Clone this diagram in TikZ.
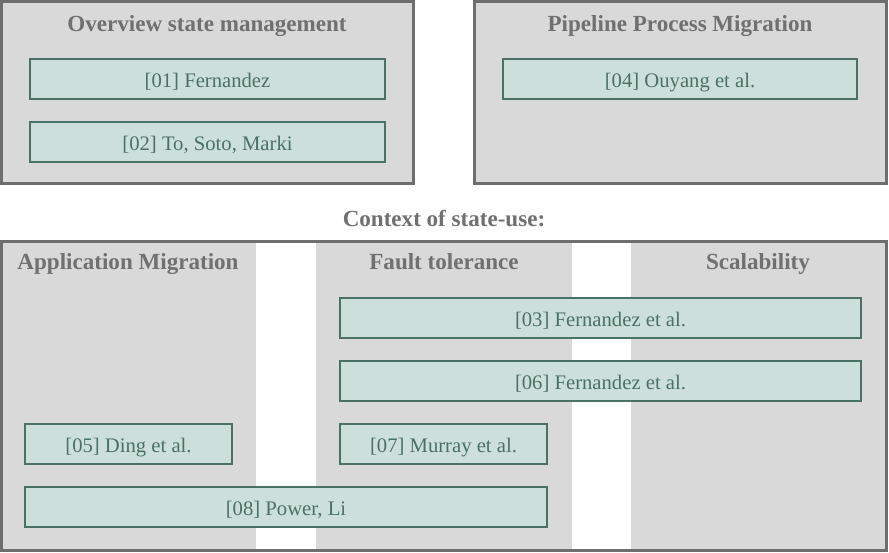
\documentclass[tikz,border=0pt]{standalone}
\usepackage{fontspec}
\setmainfont{Liberation Serif}
\usetikzlibrary{fit}
\definecolor{panelfill}{HTML}{D9D9D9}
\definecolor{panelline}{HTML}{6E6E6E}
\definecolor{titlecol}{HTML}{707070}
\definecolor{reffill}{HTML}{CCDFDA}
\definecolor{refline}{HTML}{4A7264}
\definecolor{reftext}{HTML}{4A7264}
\tikzset{
  panel/.style={fill=panelfill, draw=panelline, line width=2.25pt, inner sep=0pt},
  colfill/.style={fill=panelfill, draw=none, inner sep=0pt},
  frame/.style={draw=panelline, line width=2.25pt, inner sep=0pt},
  heading/.style={font=\fontsize{17.3}{20}\selectfont\bfseries, text=titlecol, inner sep=0pt, anchor=base},
  refbox/.style={fill=reffill, draw=refline, line width=1.5pt, inner sep=0pt},
  reflabel/.style={font=\fontsize{15.5}{18}\selectfont, text=reftext, inner sep=0pt, anchor=base, yshift=-6pt},
}
\begin{document}
\begin{tikzpicture}[x=0.75pt,y=-0.75pt]
\useasboundingbox (0,0) rectangle (889,553);
% top panels
\node[panel, fit={(1.5,1.5) (413.5,183.5)}] (p1) {};
\node[panel, fit={(474.5,1.5) (886.5,183.5)}] (p2) {};
\node[heading] (t1) at (207,31.5) {Overview state management};
\node[heading] (t2) at (680,31.5) {Pipeline Process Migration};
\node[refbox, fit={(30,59) (385,99)}] (r01) {};
\node[reflabel] (l01) at (r01.center) {[01] Fernandez};
\node[refbox, fit={(30,122) (385,162)}] (r02) {};
\node[reflabel] (l02) at (r02.center) {[02] To, Soto, Marki};
\node[refbox, fit={(503,59) (857,99)}] (r04) {};
\node[reflabel] (l04) at (r04.center) {[04] Ouyang et al.};
% context heading
\node[heading] (ctx) at (444,226.5) {Context of state-use:};
% bottom columns
\node[colfill, fit={(2,241) (256,551)}] (c1) {};
\node[colfill, fit={(316,241) (572,551)}] (c2) {};
\node[colfill, fit={(631,241) (887,551)}] (c3) {};
\node[frame, fit={(1.5,241.5) (886.5,550.5)}] (frame) {};
\node[heading] (h1) at (128,269) {Application Migration};
\node[heading] (h2) at (444,269) {Fault tolerance};
\node[heading] (h3) at (758,269) {Scalability};
% references
\node[refbox, fit={(340,298) (861,338)}] (r03) {};
\node[reflabel] (l03) at (r03.center) {[03] Fernandez et al.};
\node[refbox, fit={(340,361) (861,401)}] (r06) {};
\node[reflabel] (l06) at (r06.center) {[06] Fernandez et al.};
\node[refbox, fit={(25,424) (232,464)}] (r05) {};
\node[reflabel] (l05) at (r05.center) {[05] Ding et al.};
\node[refbox, fit={(340,424) (547,464)}] (r07) {};
\node[reflabel] (l07) at (r07.center) {[07] Murray et al.};
\node[refbox, fit={(25,487) (547,527)}] (r08) {};
\node[reflabel] (l08) at (r08.center) {[08] Power, Li};
\end{tikzpicture}
\end{document}
